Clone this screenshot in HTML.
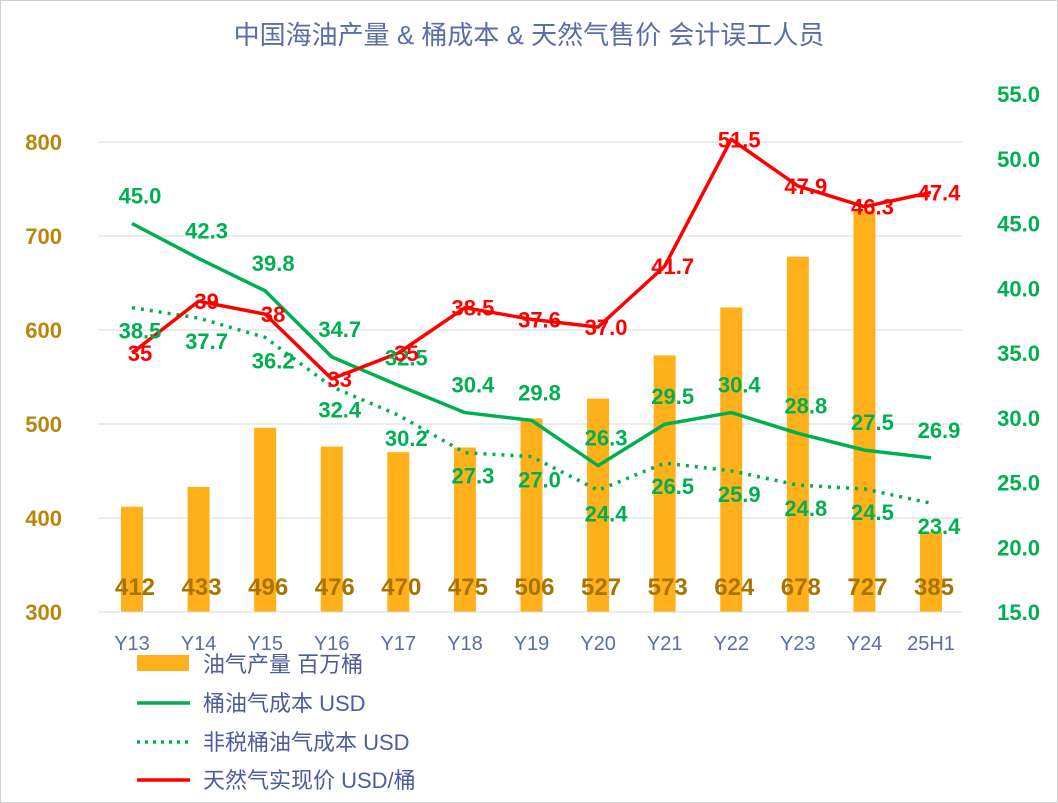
<!DOCTYPE html>
<html><head><meta charset="utf-8"><style>
body{margin:0;background:#fff;}
svg{display:block;font-family:"Liberation Sans","Noto Sans CJK SC",sans-serif;}
</style></head><body>
<svg id="c" width="1058" height="803" viewBox="0 0 1058 803">
<rect x="0.5" y="0.5" width="1057" height="802" fill="#fff" stroke="#d0d0d0"/>
<text x="529" y="44" text-anchor="middle" font-size="26" fill="#5a6ea6">中国海油产量 &amp; 桶成本 &amp; 天然气售价 会计误工人员</text>
<g id="grid"></g><g id="bars"></g><g id="lines"></g><g id="labels"></g><g id="axes"></g>
<g id="legend">
<rect x="137" y="655" width="52" height="16" fill="#ffb01a"/>
<text x="203" y="672" font-size="22" fill="#4d5c9a">油气产量 百万桶</text>
<line x1="137" y1="703" x2="190" y2="703" stroke="#00b050" stroke-width="3.5"/>
<text x="203" y="711" font-size="22" fill="#4d5c9a">桶油气成本 USD</text>
<line x1="137" y1="742" x2="190" y2="742" stroke="#00b050" stroke-width="3.5" stroke-dasharray="3,5"/>
<text x="203" y="750" font-size="22" fill="#4d5c9a">非税桶油气成本 USD</text>
<line x1="137" y1="780" x2="190" y2="780" stroke="#ff0000" stroke-width="3.5"/>
<text x="203" y="788" font-size="22" fill="#4d5c9a">天然气实现价 USD/桶</text>
</g>
</svg>
<script>
const categories=["Y13","Y14","Y15","Y16","Y17","Y18","Y19","Y20","Y21","Y22","Y23","Y24","25H1"];
const output=[412,433,496,476,470,475,506,527,573,624,678,727,385];
const cost=[45.0,42.3,39.8,34.7,32.5,30.4,29.8,26.3,29.5,30.4,28.8,27.5,26.9];
const nontaxCost=[38.5,37.7,36.2,32.4,30.2,27.3,27.0,24.4,26.5,25.9,24.8,24.5,23.4];
const gasPrice=[35,39,38,33,35,38.5,37.6,37.0,41.7,51.5,47.9,46.3,47.4];
const gasLabels=["35","39","38","33","35","38.5","37.6","37.0","41.7","51.5","47.9","46.3","47.4"];
const leftTicks=[300,400,500,600,700,800];
const rightTicks=[15,20,25,30,35,40,45,50,55];

const NS="http://www.w3.org/2000/svg";
const x=i=>132+i*(931-132)/12;
const yL=v=>612-(v-300)*0.94;
const yR=v=>612-(v-15)*12.95;
function mk(tag,attrs,parent,text){const e=document.createElementNS(NS,tag);for(const k in attrs)e.setAttribute(k,attrs[k]);if(text!==undefined)e.textContent=text;document.getElementById(parent).appendChild(e);return e;}

leftTicks.forEach(t=>{
 if(t>300){const g=mk("line",{x1:98,x2:962,y1:yL(t),y2:yL(t),stroke:"#d9d9d9","stroke-width":1},"grid");
 
 }
 const l=mk("text",{x:62,y:yL(t)+8,"text-anchor":"end","font-size":22,"font-weight":"bold",fill:"#b8860b"},"axes",String(t));
 
 
});
rightTicks.forEach(t=>{
 const l=mk("text",{x:1040,y:yR(t)+8,"text-anchor":"end","font-size":22,"font-weight":"bold",fill:"#00b050"},"axes",t.toFixed(1));
 
 
});
const ax=mk("line",{x1:98,x2:962,y1:612,y2:612,stroke:"#d9d9d9"},"axes");


categories.forEach((c,i)=>{
 const l=mk("text",{x:x(i),y:650,"text-anchor":"middle","font-size":20,fill:"#5a6ea6"},"axes",c);
 
 
});
output.forEach((v,i)=>{
 const b=mk("rect",{x:x(i)-11,y:yL(v),width:22,height:612-yL(v),fill:"#ffb01a"},"bars");
 
 
 const l=mk("text",{x:x(i)+3,y:595,"text-anchor":"middle","font-size":24,"font-weight":"bold",fill:"#a87400"},"labels",String(v));
 
 
});
function line(arr,color,dash,name){
 const p=mk("polyline",{points:arr.map((v,i)=>x(i)+","+yR(v)).join(" "),fill:"none",stroke:color,"stroke-width":3.5,"stroke-linejoin":"round"},"lines");
 if(dash)p.setAttribute("stroke-dasharray",dash);
 
 
}
line(cost,"#00b050",null,"cost-line");
line(nontaxCost,"#00b050","3,6","nontax-cost-line");
line(gasPrice,"#ff0000",null,"gas-price-line");
cost.forEach((v,i)=>{
 const l=mk("text",{x:x(i)+8,y:yR(v)-20,"text-anchor":"middle","font-size":22,"font-weight":"bold",fill:"#00b050"},"labels",v.toFixed(1));
 
 
});
nontaxCost.forEach((v,i)=>{
 const l=mk("text",{x:x(i)+8,y:yR(v)+31,"text-anchor":"middle","font-size":22,"font-weight":"bold",fill:"#00b050"},"labels",v.toFixed(1));
 
 
});
gasPrice.forEach((v,i)=>{
 const l=mk("text",{x:x(i)+8,y:yR(v)+8,"text-anchor":"middle","font-size":22,"font-weight":"bold",fill:"#ff0000"},"labels",gasLabels[i]);
 
 
});
</script>
</body></html>
